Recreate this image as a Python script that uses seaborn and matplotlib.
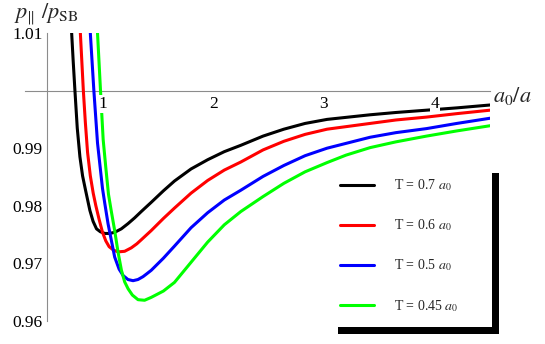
import numpy as np
import pandas as pd
import seaborn as sns
import matplotlib.pyplot as plt
from matplotlib.lines import Line2D
from matplotlib.patches import Rectangle

# values
labels = ['T = 0.7 $a_0$', 'T = 0.6 $a_0$', 'T = 0.5 $a_0$', 'T = 0.45 $a_0$']
colors = ['#000000', '#ff0000', '#0000ff', '#00ff00']

x_07 = [0.72, 0.735, 0.751, 0.772, 0.796, 0.82, 0.847, 0.886, 0.915, 0.946, 0.98, 1.021, 1.065,
        1.11, 1.17, 1.23, 1.29, 1.35, 1.44, 1.55, 1.65, 1.80, 1.95, 2.10, 2.249, 2.45, 2.638,
        2.83, 3.028, 3.417, 3.65, 3.926, 4.20, 4.50]
y_07 = [1.0105, 1.0052, 1.000, 0.9935, 0.9885, 0.9852, 0.9827, 0.9792, 0.9773, 0.9760, 0.9755,
        0.9752, 0.9752, 0.9754, 0.9760, 0.9769, 0.9779, 0.9790, 0.9806, 0.9826, 0.9843, 0.9864,
        0.9880, 0.9894, 0.9905, 0.9921, 0.9933, 0.9943, 0.9950, 0.9958, 0.9962, 0.9966, 0.9970,
        0.9975]

x_06 = [0.80, 0.827, 0.845, 0.865, 0.89, 0.916, 0.94, 0.97, 1.00, 1.03, 1.06, 1.10, 1.141, 1.20,
        1.26, 1.31, 1.35, 1.44, 1.55, 1.65, 1.80, 1.95, 2.10, 2.249, 2.45, 2.638, 2.83, 3.028,
        3.417, 3.65, 3.926, 4.20, 4.50]
y_06 = [1.010, 1.000, 0.9945, 0.9893, 0.9852, 0.9822, 0.9800, 0.9776, 0.9754, 0.9739, 0.9729,
        0.9723, 0.9720, 0.9721, 0.9727, 0.9734, 0.9741, 0.9757, 0.9778, 0.9796, 0.9822, 0.9844,
        0.9862, 0.9876, 0.9897, 0.9912, 0.9924, 0.9933, 0.9943, 0.9949, 0.9954, 0.9960, 0.9966]

x_05 = [0.89, 0.922, 0.955, 1.00, 1.02, 1.05, 1.11, 1.15, 1.186, 1.23, 1.276, 1.32, 1.366, 1.40,
        1.44, 1.55, 1.65, 1.80, 1.95, 2.10, 2.249, 2.45, 2.638, 2.83, 3.028, 3.417, 3.65, 3.926,
        4.20, 4.50]
y_05 = [1.010, 1.000, 0.9909, 0.9830, 0.9805, 0.9769, 0.9711, 0.9690, 0.9679, 0.9672, 0.9670,
        0.9672, 0.9677, 0.9682, 0.9688, 0.9709, 0.9730, 0.9762, 0.9788, 0.9810, 0.9827, 0.9851,
        0.9870, 0.9887, 0.9900, 0.9919, 0.9927, 0.9934, 0.9943, 0.9952]

x_045 = [0.955, 0.982, 1.006, 1.03, 1.054, 1.08, 1.11, 1.14, 1.171, 1.20, 1.231, 1.27, 1.321,
         1.38, 1.44, 1.55, 1.65, 1.80, 1.95, 2.10, 2.249, 2.45, 2.638, 2.83, 3.028, 3.20, 3.417,
         3.65, 3.926, 4.20, 4.50]
y_045 = [1.010, 1.000, 0.9915, 0.9866, 0.9820, 0.9790, 0.9757, 0.9720, 0.9688, 0.9668, 0.9656,
         0.9645, 0.9637, 0.9636, 0.9641, 0.9652, 0.9667, 0.9702, 0.9737, 0.9767, 0.9790, 0.9816,
         0.9839, 0.9859, 0.9875, 0.9888, 0.9901, 0.9911, 0.9921, 0.9930, 0.9939]

xs = [x_07, x_06, x_05, x_045]
ys = [y_07, y_06, y_05, y_045]
df = pd.concat([pd.DataFrame({'x': a, 'y': b, 'T': lab}) for a, b, lab in zip(xs, ys, labels)])

sns.set_style('white')
plt.rcParams['font.family'] = ['Liberation Serif', 'DejaVu Serif']
plt.rcParams['mathtext.fontset'] = 'stix'

fig = plt.figure(figsize=(5.45, 3.44), dpi=100)
ax = fig.add_axes([25 / 545, 23 / 344, 465 / 545, 288 / 344])

sns.lineplot(data=df, x='x', y='y', hue='T', palette=colors, estimator=None, sort=False,
             linewidth=2.2, legend=False, ax=ax, zorder=2.2)

ax.set_xlim(0.3, 4.5)
ax.set_ylim(0.96, 1.01)
ax.set_xlabel('')
ax.set_ylabel('')

for s in ['top', 'right']:
    ax.spines[s].set_visible(False)
ax.spines['left'].set_position(('data', 0.5))
ax.spines['bottom'].set_position(('data', 1.0))
for s in ['left', 'bottom']:
    ax.spines[s].set_color('#8c8c8c')
    ax.spines[s].set_linewidth(0.8)
    ax.spines[s].set_zorder(2)
ax.set_axisbelow(False)

ax.set_xticks([1, 2, 3, 4])
ax.set_xticks(np.arange(0.4, 4.5, 0.2), minor=True)
ax.set_yticks([0.96, 0.97, 0.98, 0.99, 1.00, 1.01])
ax.set_yticklabels(['0.96', '0.97', '0.98', '0.99', '', '1.01'])
ax.set_yticks(np.arange(0.962, 1.0095, 0.002), minor=True)

ax.tick_params(which='both', direction='in', color='#9a9a9a', width=0.8, labelsize=12.5,
               labelcolor='black')
ax.tick_params(which='major', length=4.5)
ax.tick_params(which='minor', length=2.8)
ax.tick_params(axis='x', pad=4)
ax.tick_params(axis='y', pad=3)
for t in ax.get_xticklabels():
    t.set_bbox(dict(facecolor='white', edgecolor='none', pad=0.5))

fig.text(14 / 545, 1 - 19 / 344, r'$p_{\|}\ /p_{\mathrm{SB}}$', fontsize=16, ha='left',
         va='baseline')
fig.text(493 / 545, 1 - 102 / 344, r'$a_0/a$', fontsize=16, ha='left', va='baseline')

# legend box with heavy right/bottom edge
fig.add_artist(Rectangle((338 / 545, 1 - 334 / 344), 161 / 545, 161 / 344,
                         transform=fig.transFigure, facecolor='black', edgecolor='none',
                         zorder=1))
fig.add_artist(Rectangle((338 / 545, 1 - 327 / 344), 154 / 545, 154 / 344,
                         transform=fig.transFigure, facecolor='white', edgecolor='none',
                         zorder=2))
handles = [Line2D([], [], color=c, linewidth=2.2) for c in colors]
fig.legend(handles, labels, loc='center left', bbox_to_anchor=(340 / 545, 1 - 245.5 / 344),
           frameon=False, fontsize=10, handlelength=2.45, handletextpad=1.44,
           labelspacing=1.75, borderpad=0, borderaxespad=0)

fig.savefig('out.png', dpi=100)
